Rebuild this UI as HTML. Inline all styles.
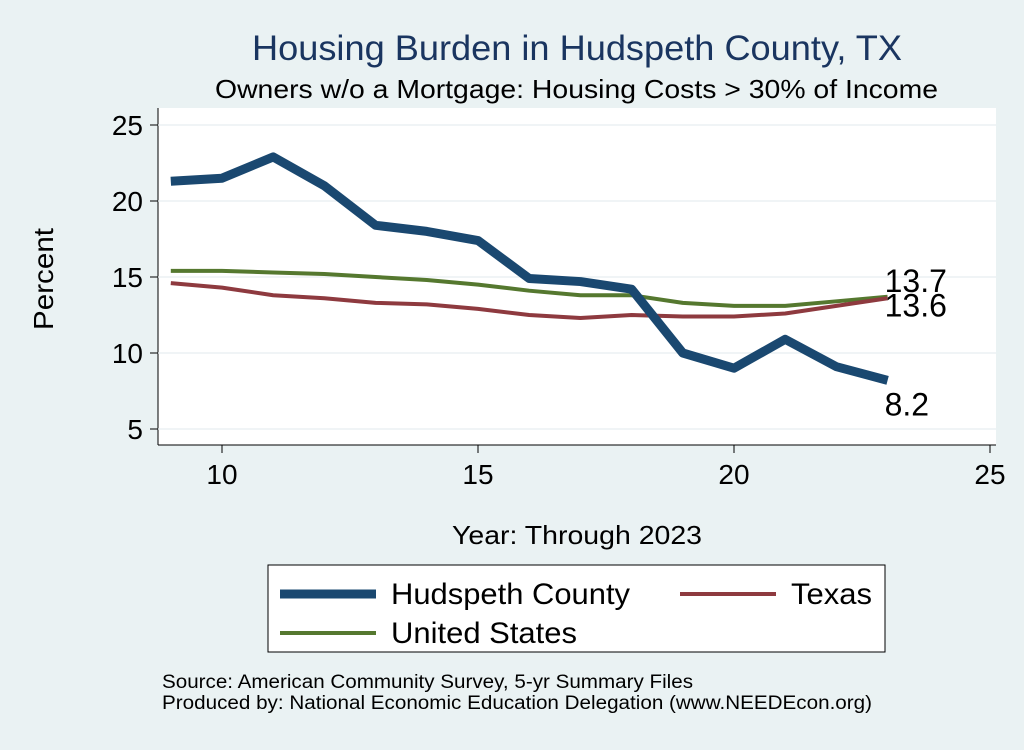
<!DOCTYPE html>
<html><head><meta charset="utf-8"><style>
body{margin:0;background:#eaf2f3;}
svg text{font-family:"Liberation Sans",sans-serif;}
</style></head><body>
<svg width="1024" height="745" viewBox="0 0 1024 745" id="c">
<rect x="0" y="0" width="1024" height="745" fill="#eaf2f3"/>
<rect x="158" y="108" width="838" height="337" fill="#fff"/>
<line x1="158" y1="108" x2="158" y2="445" stroke="#000"/>
<line x1="158" y1="445" x2="996" y2="445" stroke="#000"/>
<text x="252" y="60" font-size="35" fill="#1a3560" textLength="650" lengthAdjust="spacingAndGlyphs">Housing Burden in Hudspeth County, TX</text>
<text x="215" y="98" font-size="26" fill="#000" textLength="723" lengthAdjust="spacingAndGlyphs">Owners w/o a Mortgage: Housing Costs &gt; 30% of Income</text>
<text x="53" y="279" font-size="28" text-anchor="middle" transform="rotate(-90 53 279)" textLength="102" lengthAdjust="spacingAndGlyphs">Percent</text>
<text x="452" y="544" font-size="26" textLength="250" lengthAdjust="spacingAndGlyphs">Year: Through 2023</text>
<g id="axes"></g>
<g id="series"></g>
<rect x="268" y="565" width="617" height="87" fill="#fff" stroke="#000"/>
<g><line x1="280" y1="594" x2="376" y2="594" stroke="#1a4870" stroke-width="9"/><text x="391" y="604" font-size="30" textLength="239" lengthAdjust="spacingAndGlyphs">Hudspeth County</text></g>
<g><line x1="680" y1="594" x2="776" y2="594" stroke="#8e3a3f" stroke-width="4"/><text x="791" y="604" font-size="30" textLength="81" lengthAdjust="spacingAndGlyphs">Texas</text></g>
<g><line x1="280" y1="633" x2="376" y2="633" stroke="#55782f" stroke-width="4"/><text x="391" y="643" font-size="30" textLength="186" lengthAdjust="spacingAndGlyphs">United States</text></g>
<text x="162" y="688" font-size="19" textLength="531" lengthAdjust="spacingAndGlyphs">Source: American Community Survey, 5-yr Summary Files</text>
<text x="162" y="709" font-size="19" textLength="710" lengthAdjust="spacingAndGlyphs">Produced by: National Economic Education Delegation (www.NEEDEcon.org)</text>
</svg>
<script>
const years=[9,10,11,12,13,14,15,16,17,18,19,20,21,22,23];
const hudspeth=[21.3,21.5,22.9,21.0,18.4,18.0,17.4,14.9,14.7,14.2,10.0,9.0,10.9,9.1,8.2];
const texas=[14.6,14.3,13.8,13.6,13.3,13.2,12.9,12.5,12.3,12.5,12.4,12.4,12.6,13.1,13.6];
const us=[15.4,15.4,15.3,15.2,15.0,14.8,14.5,14.1,13.8,13.8,13.3,13.1,13.1,13.4,13.7];
const xTicks=[10,15,20,25];
const yTicks=[5,10,15,20,25];
const NS="http://www.w3.org/2000/svg";
const X=v=>222+(v-10)*51.2;
const Y=v=>429-(v-5)*15.2;
function mk(tag,attrs,parent){const e=document.createElementNS(NS,tag);for(const k in attrs)e.setAttribute(k,attrs[k]);parent.appendChild(e);return e;}
const axes=document.getElementById('axes');
yTicks.forEach(t=>{
 const g=mk('line',{x1:158,x2:996,y1:Y(t),y2:Y(t),stroke:'#e6eef0','stroke-width':1.2},axes);
 
 
 const tk=mk('line',{x1:150,x2:158,y1:Y(t),y2:Y(t),stroke:'#000'},axes);
 
 
 const tx=mk('text',{x:143,y:Y(t)+10,'font-size':28,'text-anchor':'end'},axes);tx.textContent=t;
 
 
});
xTicks.forEach(t=>{
 const tk=mk('line',{x1:X(t),x2:X(t),y1:445,y2:453,stroke:'#000'},axes);
 
 
 const tx=mk('text',{x:X(t),y:484,'font-size':28,'text-anchor':'middle'},axes);tx.textContent=t;
 
 
});
const S=document.getElementById('series');
function line(vals,color,w,name){
 const p=mk('polyline',{points:vals.map((v,i)=>X(years[i])+','+Y(v)).join(' '),fill:'none',stroke:color,'stroke-width':w,'stroke-linejoin':'round'},S);
 
 
}
line(us,'#55782f',4,'line-united-states');
line(texas,'#8e3a3f',4,'line-texas');
line(hudspeth,'#1a4870',9,'line-hudspeth');
function lab(v,dy,name){
 const t=mk('text',{x:X(years[years.length-1])-3,y:Y(v)+dy,'font-size':32},S);t.textContent=v.toFixed(1);
 
 
}
lab(us[us.length-1],-5,'label-us-end');
lab(texas[texas.length-1],18,'label-texas-end');
lab(hudspeth[hudspeth.length-1],35,'label-hudspeth-end');
</script>
</body></html>
